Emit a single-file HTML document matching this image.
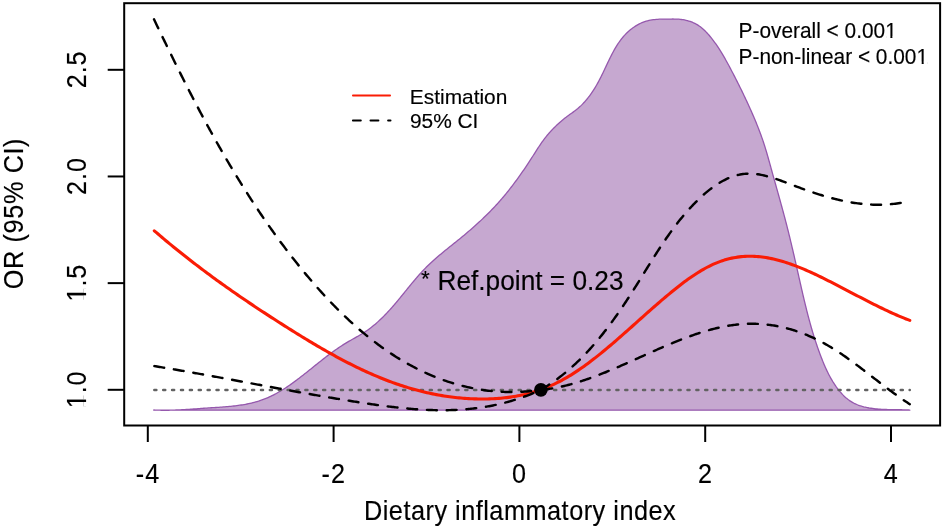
<!DOCTYPE html>
<html><head><meta charset="utf-8"><style>
html,body{margin:0;padding:0;background:#fff;}
body{width:943px;height:528px;overflow:hidden;}
svg{display:block;will-change:transform;}
text{fill:#000;}
</style></head><body>
<svg width="943" height="528" viewBox="0 0 943 528" font-family='"Liberation Sans", sans-serif'><rect x="0" y="0" width="943" height="528" fill="#fff"/><path d="M153.80,410.00 L155.32,410.07 L156.83,410.13 L158.34,410.18 L159.84,410.21 L161.34,410.24 L162.83,410.25 L164.32,410.26 L165.80,410.26 L167.29,410.25 L168.76,410.23 L170.24,410.20 L171.71,410.17 L173.18,410.12 L174.64,410.07 L176.10,410.02 L177.57,409.96 L179.03,409.89 L180.49,409.82 L181.94,409.74 L183.40,409.66 L184.86,409.57 L186.31,409.48 L187.77,409.39 L189.23,409.29 L190.68,409.20 L192.14,409.10 L193.60,408.99 L195.06,408.89 L196.53,408.79 L197.99,408.68 L199.46,408.57 L200.93,408.47 L202.40,408.37 L203.87,408.26 L205.35,408.16 L206.83,408.06 L208.32,407.96 L209.81,407.86 L211.30,407.77 L212.80,407.67 L214.30,407.58 L215.80,407.48 L217.30,407.38 L218.80,407.28 L220.31,407.18 L221.81,407.07 L223.32,406.96 L224.82,406.84 L226.33,406.72 L227.83,406.59 L229.33,406.45 L230.83,406.30 L232.33,406.15 L233.83,405.99 L235.32,405.81 L236.81,405.63 L238.30,405.44 L239.78,405.23 L241.26,405.01 L242.73,404.78 L244.20,404.53 L245.67,404.27 L247.12,403.99 L248.57,403.70 L250.02,403.39 L251.46,403.06 L252.89,402.71 L254.31,402.35 L255.72,401.97 L257.13,401.56 L258.53,401.14 L259.91,400.69 L261.29,400.22 L262.66,399.73 L264.02,399.22 L265.37,398.68 L266.71,398.13 L268.04,397.55 L269.36,396.96 L270.68,396.34 L271.99,395.71 L273.28,395.06 L274.58,394.39 L275.86,393.71 L277.14,393.00 L278.41,392.29 L279.67,391.55 L280.92,390.81 L282.17,390.04 L283.42,389.27 L284.66,388.48 L285.89,387.68 L287.12,386.86 L288.34,386.04 L289.56,385.20 L290.77,384.36 L291.98,383.50 L293.18,382.63 L294.38,381.76 L295.58,380.88 L296.77,379.98 L297.96,379.09 L299.15,378.18 L300.34,377.27 L301.52,376.36 L302.70,375.43 L303.88,374.51 L305.05,373.58 L306.23,372.65 L307.40,371.71 L308.57,370.77 L309.74,369.83 L310.92,368.89 L312.09,367.95 L313.26,367.01 L314.43,366.07 L315.60,365.13 L316.77,364.19 L317.94,363.26 L319.11,362.32 L320.29,361.39 L321.46,360.46 L322.63,359.54 L323.81,358.62 L324.99,357.70 L326.17,356.79 L327.35,355.89 L328.54,354.99 L329.72,354.10 L330.91,353.22 L332.11,352.35 L333.30,351.48 L334.50,350.62 L335.70,349.77 L336.90,348.93 L338.11,348.10 L339.32,347.29 L340.54,346.48 L341.76,345.69 L342.98,344.90 L344.21,344.13 L345.44,343.38 L346.68,342.63 L347.92,341.90 L349.17,341.18 L350.42,340.47 L351.67,339.76 L352.92,339.05 L354.17,338.35 L355.43,337.64 L356.68,336.93 L357.93,336.21 L359.18,335.48 L360.43,334.74 L361.67,333.99 L362.91,333.23 L364.15,332.45 L365.38,331.64 L366.61,330.82 L367.82,329.97 L369.04,329.10 L370.24,328.20 L371.44,327.27 L372.62,326.33 L373.80,325.37 L374.97,324.39 L376.12,323.39 L377.27,322.38 L378.40,321.36 L379.52,320.33 L380.62,319.29 L381.71,318.24 L382.79,317.18 L383.86,316.11 L384.92,315.04 L385.96,313.96 L386.99,312.87 L388.02,311.78 L389.03,310.68 L390.03,309.57 L391.03,308.46 L392.02,307.35 L393.00,306.23 L393.97,305.11 L394.94,303.98 L395.89,302.85 L396.85,301.72 L397.80,300.58 L398.74,299.44 L399.68,298.30 L400.62,297.16 L401.55,296.01 L402.49,294.87 L403.42,293.73 L404.34,292.58 L405.27,291.44 L406.20,290.29 L407.12,289.15 L408.05,288.01 L408.98,286.87 L409.91,285.73 L410.84,284.60 L411.78,283.46 L412.71,282.34 L413.65,281.21 L414.60,280.09 L415.55,278.97 L416.51,277.86 L417.47,276.75 L418.43,275.65 L419.41,274.55 L420.39,273.46 L421.38,272.37 L422.37,271.30 L423.38,270.23 L424.40,269.16 L425.42,268.11 L426.46,267.06 L427.50,266.02 L428.56,264.99 L429.63,263.97 L430.70,262.96 L431.79,261.95 L432.89,260.96 L433.99,259.96 L435.10,258.98 L436.22,258.00 L437.35,257.03 L438.48,256.06 L439.62,255.10 L440.76,254.14 L441.91,253.19 L443.06,252.24 L444.22,251.29 L445.38,250.35 L446.54,249.41 L447.70,248.47 L448.86,247.53 L450.03,246.60 L451.19,245.67 L452.36,244.73 L453.52,243.80 L454.69,242.87 L455.85,241.94 L457.01,241.01 L458.16,240.07 L459.32,239.14 L460.47,238.20 L461.61,237.26 L462.75,236.32 L463.89,235.38 L465.02,234.43 L466.15,233.48 L467.27,232.53 L468.40,231.58 L469.51,230.62 L470.62,229.66 L471.73,228.70 L472.84,227.73 L473.93,226.76 L475.03,225.79 L476.12,224.81 L477.21,223.82 L478.29,222.84 L479.37,221.85 L480.44,220.85 L481.51,219.85 L482.57,218.85 L483.63,217.84 L484.69,216.82 L485.74,215.80 L486.78,214.78 L487.82,213.75 L488.86,212.71 L489.89,211.67 L490.92,210.62 L491.94,209.56 L492.96,208.50 L493.97,207.43 L494.98,206.36 L495.98,205.28 L496.98,204.19 L497.98,203.09 L498.96,201.99 L499.95,200.88 L500.93,199.76 L501.90,198.64 L502.87,197.50 L503.83,196.36 L504.79,195.22 L505.74,194.06 L506.69,192.90 L507.63,191.74 L508.57,190.57 L509.50,189.39 L510.43,188.21 L511.35,187.02 L512.26,185.83 L513.18,184.63 L514.08,183.43 L514.98,182.22 L515.88,181.01 L516.77,179.80 L517.65,178.59 L518.53,177.37 L519.40,176.15 L520.27,174.92 L521.13,173.70 L521.99,172.47 L522.84,171.24 L523.68,170.01 L524.52,168.78 L525.36,167.55 L526.19,166.32 L527.01,165.09 L527.83,163.85 L528.64,162.62 L529.44,161.39 L530.24,160.16 L531.04,158.93 L531.82,157.70 L532.61,156.48 L533.39,155.25 L534.16,154.03 L534.94,152.81 L535.72,151.59 L536.49,150.38 L537.28,149.17 L538.06,147.96 L538.86,146.76 L539.66,145.56 L540.47,144.37 L541.29,143.18 L542.12,141.99 L542.97,140.81 L543.83,139.63 L544.71,138.47 L545.61,137.30 L546.53,136.15 L547.47,135.00 L548.43,133.85 L549.41,132.72 L550.42,131.59 L551.46,130.47 L552.51,129.36 L553.58,128.26 L554.67,127.17 L555.77,126.09 L556.89,125.03 L558.02,123.99 L559.16,122.96 L560.31,121.94 L561.47,120.95 L562.64,119.97 L563.80,119.01 L564.98,118.08 L566.15,117.16 L567.32,116.27 L568.49,115.41 L569.65,114.56 L570.81,113.73 L571.97,112.91 L573.11,112.10 L574.24,111.28 L575.37,110.44 L576.47,109.59 L577.57,108.70 L578.64,107.79 L579.70,106.85 L580.75,105.88 L581.77,104.89 L582.78,103.86 L583.78,102.81 L584.76,101.74 L585.72,100.64 L586.67,99.53 L587.60,98.38 L588.51,97.22 L589.41,96.04 L590.29,94.85 L591.16,93.63 L592.01,92.40 L592.85,91.15 L593.66,89.89 L594.47,88.62 L595.26,87.33 L596.03,86.04 L596.78,84.73 L597.53,83.41 L598.25,82.09 L598.96,80.76 L599.67,79.42 L600.36,78.08 L601.04,76.73 L601.71,75.38 L602.37,74.02 L603.03,72.66 L603.68,71.30 L604.33,69.94 L604.97,68.58 L605.61,67.21 L606.25,65.85 L606.89,64.50 L607.53,63.14 L608.18,61.79 L608.82,60.44 L609.48,59.10 L610.13,57.76 L610.80,56.44 L611.47,55.11 L612.15,53.80 L612.84,52.50 L613.54,51.20 L614.26,49.92 L614.99,48.65 L615.73,47.39 L616.49,46.14 L617.26,44.91 L618.06,43.69 L618.87,42.49 L619.70,41.31 L620.56,40.14 L621.44,38.99 L622.35,37.86 L623.28,36.74 L624.24,35.65 L625.23,34.58 L626.25,33.53 L627.30,32.51 L628.38,31.50 L629.49,30.53 L630.63,29.58 L631.79,28.67 L632.99,27.78 L634.21,26.93 L635.45,26.12 L636.72,25.34 L638.01,24.61 L639.32,23.92 L640.65,23.27 L642.00,22.67 L643.37,22.12 L644.75,21.62 L646.15,21.17 L647.57,20.78 L648.99,20.44 L650.44,20.15 L651.89,19.90 L653.35,19.69 L654.82,19.53 L656.30,19.39 L657.79,19.29 L659.28,19.21 L660.78,19.15 L662.28,19.11 L663.79,19.09 L665.30,19.07 L666.80,19.06 L668.31,19.05 L669.82,19.04 L671.32,19.03 L672.82,19.02 L674.31,19.03 L675.80,19.06 L677.28,19.12 L678.75,19.21 L680.21,19.34 L681.67,19.52 L683.11,19.73 L684.54,19.98 L685.96,20.28 L687.36,20.62 L688.74,21.01 L690.11,21.45 L691.47,21.93 L692.80,22.47 L694.11,23.06 L695.41,23.70 L696.68,24.40 L697.93,25.15 L699.15,25.96 L700.35,26.83 L701.53,27.74 L702.68,28.71 L703.81,29.72 L704.91,30.77 L706.00,31.86 L707.06,32.97 L708.10,34.11 L709.12,35.28 L710.11,36.46 L711.09,37.66 L712.04,38.87 L712.97,40.08 L713.89,41.30 L714.78,42.52 L715.66,43.74 L716.52,44.97 L717.36,46.20 L718.19,47.43 L719.00,48.67 L719.80,49.91 L720.58,51.15 L721.35,52.40 L722.11,53.65 L722.86,54.90 L723.60,56.16 L724.33,57.42 L725.05,58.68 L725.76,59.95 L726.47,61.22 L727.17,62.49 L727.86,63.76 L728.56,65.04 L729.24,66.32 L729.93,67.60 L730.61,68.89 L731.29,70.18 L731.97,71.47 L732.64,72.76 L733.32,74.06 L733.99,75.36 L734.67,76.66 L735.34,77.97 L736.00,79.28 L736.67,80.59 L737.33,81.90 L738.00,83.22 L738.66,84.53 L739.32,85.85 L739.97,87.18 L740.63,88.50 L741.28,89.83 L741.93,91.16 L742.57,92.49 L743.22,93.83 L743.86,95.17 L744.50,96.51 L745.14,97.85 L745.77,99.19 L746.40,100.54 L747.03,101.89 L747.66,103.24 L748.28,104.59 L748.90,105.95 L749.52,107.30 L750.13,108.66 L750.74,110.02 L751.35,111.38 L751.95,112.75 L752.55,114.12 L753.14,115.48 L753.73,116.86 L754.32,118.23 L754.89,119.60 L755.47,120.98 L756.04,122.36 L756.60,123.73 L757.15,125.12 L757.70,126.50 L758.25,127.88 L758.79,129.27 L759.32,130.66 L759.84,132.05 L760.36,133.44 L760.87,134.83 L761.38,136.22 L761.87,137.62 L762.36,139.01 L762.84,140.41 L763.31,141.81 L763.78,143.21 L764.23,144.61 L764.68,146.02 L765.12,147.42 L765.55,148.83 L765.98,150.23 L766.40,151.64 L766.81,153.05 L767.22,154.46 L767.63,155.87 L768.03,157.28 L768.43,158.70 L768.83,160.11 L769.22,161.53 L769.62,162.94 L770.01,164.36 L770.40,165.78 L770.79,167.20 L771.18,168.62 L771.58,170.04 L771.97,171.46 L772.37,172.88 L772.76,174.31 L773.16,175.73 L773.56,177.15 L773.96,178.58 L774.36,180.01 L774.76,181.43 L775.16,182.86 L775.56,184.29 L775.96,185.72 L776.36,187.15 L776.76,188.58 L777.16,190.01 L777.56,191.44 L777.96,192.87 L778.36,194.30 L778.76,195.73 L779.16,197.17 L779.56,198.60 L779.96,200.04 L780.35,201.47 L780.75,202.91 L781.14,204.34 L781.54,205.78 L781.93,207.21 L782.32,208.65 L782.71,210.09 L783.10,211.53 L783.49,212.96 L783.87,214.40 L784.26,215.84 L784.64,217.28 L785.02,218.72 L785.40,220.16 L785.77,221.60 L786.15,223.04 L786.52,224.48 L786.89,225.92 L787.25,227.36 L787.62,228.80 L787.98,230.24 L788.34,231.69 L788.70,233.13 L789.05,234.57 L789.41,236.01 L789.76,237.45 L790.11,238.89 L790.46,240.34 L790.80,241.78 L791.15,243.22 L791.49,244.66 L791.83,246.11 L792.17,247.55 L792.51,248.99 L792.85,250.43 L793.18,251.88 L793.52,253.32 L793.85,254.76 L794.18,256.20 L794.51,257.64 L794.85,259.09 L795.17,260.53 L795.50,261.97 L795.83,263.41 L796.16,264.85 L796.49,266.29 L796.81,267.73 L797.14,269.17 L797.46,270.61 L797.79,272.05 L798.11,273.49 L798.44,274.93 L798.76,276.37 L799.08,277.81 L799.41,279.25 L799.73,280.69 L800.06,282.13 L800.38,283.56 L800.71,285.00 L801.04,286.44 L801.36,287.88 L801.69,289.31 L802.02,290.75 L802.35,292.18 L802.68,293.62 L803.02,295.05 L803.35,296.48 L803.69,297.92 L804.03,299.35 L804.37,300.78 L804.71,302.21 L805.06,303.64 L805.41,305.07 L805.76,306.50 L806.11,307.93 L806.47,309.36 L806.82,310.79 L807.19,312.22 L807.55,313.64 L807.92,315.07 L808.29,316.49 L808.67,317.92 L809.05,319.34 L809.44,320.76 L809.82,322.19 L810.22,323.61 L810.61,325.03 L811.02,326.45 L811.42,327.87 L811.83,329.28 L812.25,330.70 L812.67,332.12 L813.10,333.53 L813.53,334.95 L813.97,336.36 L814.41,337.77 L814.86,339.19 L815.31,340.60 L815.77,342.01 L816.24,343.41 L816.71,344.82 L817.19,346.23 L817.68,347.63 L818.17,349.04 L818.67,350.44 L819.18,351.84 L819.70,353.25 L820.22,354.65 L820.75,356.05 L821.28,357.44 L821.83,358.84 L822.38,360.23 L822.94,361.63 L823.51,363.02 L824.09,364.40 L824.69,365.78 L825.29,367.15 L825.91,368.52 L826.53,369.88 L827.18,371.24 L827.83,372.58 L828.50,373.92 L829.18,375.25 L829.88,376.57 L830.60,377.87 L831.33,379.17 L832.08,380.45 L832.85,381.72 L833.64,382.97 L834.44,384.21 L835.27,385.44 L836.11,386.65 L836.98,387.84 L837.87,389.02 L838.78,390.18 L839.71,391.32 L840.67,392.44 L841.65,393.54 L842.65,394.61 L843.68,395.66 L844.74,396.67 L845.82,397.65 L846.93,398.60 L848.06,399.49 L849.23,400.35 L850.42,401.15 L851.64,401.91 L852.89,402.62 L854.16,403.29 L855.46,403.91 L856.78,404.48 L858.12,405.02 L859.49,405.52 L860.87,405.98 L862.27,406.40 L863.69,406.79 L865.13,407.14 L866.58,407.47 L868.04,407.76 L869.52,408.03 L871.01,408.26 L872.51,408.48 L874.02,408.67 L875.53,408.83 L877.05,408.98 L878.58,409.11 L880.11,409.21 L881.65,409.31 L883.18,409.39 L884.72,409.45 L886.26,409.51 L887.79,409.55 L889.32,409.59 L890.85,409.62 L892.38,409.64 L893.89,409.66 L895.40,409.68 L896.90,409.70 L898.39,409.72 L899.87,409.74 L901.33,409.77 L902.79,409.80 L904.22,409.84 L905.64,409.89 L907.05,409.95 L908.43,410.02 L909.80,410.10 L909.80,410.2 L153.80,410.2 Z" fill="#c6a8d0" stroke="none"/><path d="M153.80,410.00 L155.32,410.07 L156.83,410.13 L158.34,410.18 L159.84,410.21 L161.34,410.24 L162.83,410.25 L164.32,410.26 L165.80,410.26 L167.29,410.25 L168.76,410.23 L170.24,410.20 L171.71,410.17 L173.18,410.12 L174.64,410.07 L176.10,410.02 L177.57,409.96 L179.03,409.89 L180.49,409.82 L181.94,409.74 L183.40,409.66 L184.86,409.57 L186.31,409.48 L187.77,409.39 L189.23,409.29 L190.68,409.20 L192.14,409.10 L193.60,408.99 L195.06,408.89 L196.53,408.79 L197.99,408.68 L199.46,408.57 L200.93,408.47 L202.40,408.37 L203.87,408.26 L205.35,408.16 L206.83,408.06 L208.32,407.96 L209.81,407.86 L211.30,407.77 L212.80,407.67 L214.30,407.58 L215.80,407.48 L217.30,407.38 L218.80,407.28 L220.31,407.18 L221.81,407.07 L223.32,406.96 L224.82,406.84 L226.33,406.72 L227.83,406.59 L229.33,406.45 L230.83,406.30 L232.33,406.15 L233.83,405.99 L235.32,405.81 L236.81,405.63 L238.30,405.44 L239.78,405.23 L241.26,405.01 L242.73,404.78 L244.20,404.53 L245.67,404.27 L247.12,403.99 L248.57,403.70 L250.02,403.39 L251.46,403.06 L252.89,402.71 L254.31,402.35 L255.72,401.97 L257.13,401.56 L258.53,401.14 L259.91,400.69 L261.29,400.22 L262.66,399.73 L264.02,399.22 L265.37,398.68 L266.71,398.13 L268.04,397.55 L269.36,396.96 L270.68,396.34 L271.99,395.71 L273.28,395.06 L274.58,394.39 L275.86,393.71 L277.14,393.00 L278.41,392.29 L279.67,391.55 L280.92,390.81 L282.17,390.04 L283.42,389.27 L284.66,388.48 L285.89,387.68 L287.12,386.86 L288.34,386.04 L289.56,385.20 L290.77,384.36 L291.98,383.50 L293.18,382.63 L294.38,381.76 L295.58,380.88 L296.77,379.98 L297.96,379.09 L299.15,378.18 L300.34,377.27 L301.52,376.36 L302.70,375.43 L303.88,374.51 L305.05,373.58 L306.23,372.65 L307.40,371.71 L308.57,370.77 L309.74,369.83 L310.92,368.89 L312.09,367.95 L313.26,367.01 L314.43,366.07 L315.60,365.13 L316.77,364.19 L317.94,363.26 L319.11,362.32 L320.29,361.39 L321.46,360.46 L322.63,359.54 L323.81,358.62 L324.99,357.70 L326.17,356.79 L327.35,355.89 L328.54,354.99 L329.72,354.10 L330.91,353.22 L332.11,352.35 L333.30,351.48 L334.50,350.62 L335.70,349.77 L336.90,348.93 L338.11,348.10 L339.32,347.29 L340.54,346.48 L341.76,345.69 L342.98,344.90 L344.21,344.13 L345.44,343.38 L346.68,342.63 L347.92,341.90 L349.17,341.18 L350.42,340.47 L351.67,339.76 L352.92,339.05 L354.17,338.35 L355.43,337.64 L356.68,336.93 L357.93,336.21 L359.18,335.48 L360.43,334.74 L361.67,333.99 L362.91,333.23 L364.15,332.45 L365.38,331.64 L366.61,330.82 L367.82,329.97 L369.04,329.10 L370.24,328.20 L371.44,327.27 L372.62,326.33 L373.80,325.37 L374.97,324.39 L376.12,323.39 L377.27,322.38 L378.40,321.36 L379.52,320.33 L380.62,319.29 L381.71,318.24 L382.79,317.18 L383.86,316.11 L384.92,315.04 L385.96,313.96 L386.99,312.87 L388.02,311.78 L389.03,310.68 L390.03,309.57 L391.03,308.46 L392.02,307.35 L393.00,306.23 L393.97,305.11 L394.94,303.98 L395.89,302.85 L396.85,301.72 L397.80,300.58 L398.74,299.44 L399.68,298.30 L400.62,297.16 L401.55,296.01 L402.49,294.87 L403.42,293.73 L404.34,292.58 L405.27,291.44 L406.20,290.29 L407.12,289.15 L408.05,288.01 L408.98,286.87 L409.91,285.73 L410.84,284.60 L411.78,283.46 L412.71,282.34 L413.65,281.21 L414.60,280.09 L415.55,278.97 L416.51,277.86 L417.47,276.75 L418.43,275.65 L419.41,274.55 L420.39,273.46 L421.38,272.37 L422.37,271.30 L423.38,270.23 L424.40,269.16 L425.42,268.11 L426.46,267.06 L427.50,266.02 L428.56,264.99 L429.63,263.97 L430.70,262.96 L431.79,261.95 L432.89,260.96 L433.99,259.96 L435.10,258.98 L436.22,258.00 L437.35,257.03 L438.48,256.06 L439.62,255.10 L440.76,254.14 L441.91,253.19 L443.06,252.24 L444.22,251.29 L445.38,250.35 L446.54,249.41 L447.70,248.47 L448.86,247.53 L450.03,246.60 L451.19,245.67 L452.36,244.73 L453.52,243.80 L454.69,242.87 L455.85,241.94 L457.01,241.01 L458.16,240.07 L459.32,239.14 L460.47,238.20 L461.61,237.26 L462.75,236.32 L463.89,235.38 L465.02,234.43 L466.15,233.48 L467.27,232.53 L468.40,231.58 L469.51,230.62 L470.62,229.66 L471.73,228.70 L472.84,227.73 L473.93,226.76 L475.03,225.79 L476.12,224.81 L477.21,223.82 L478.29,222.84 L479.37,221.85 L480.44,220.85 L481.51,219.85 L482.57,218.85 L483.63,217.84 L484.69,216.82 L485.74,215.80 L486.78,214.78 L487.82,213.75 L488.86,212.71 L489.89,211.67 L490.92,210.62 L491.94,209.56 L492.96,208.50 L493.97,207.43 L494.98,206.36 L495.98,205.28 L496.98,204.19 L497.98,203.09 L498.96,201.99 L499.95,200.88 L500.93,199.76 L501.90,198.64 L502.87,197.50 L503.83,196.36 L504.79,195.22 L505.74,194.06 L506.69,192.90 L507.63,191.74 L508.57,190.57 L509.50,189.39 L510.43,188.21 L511.35,187.02 L512.26,185.83 L513.18,184.63 L514.08,183.43 L514.98,182.22 L515.88,181.01 L516.77,179.80 L517.65,178.59 L518.53,177.37 L519.40,176.15 L520.27,174.92 L521.13,173.70 L521.99,172.47 L522.84,171.24 L523.68,170.01 L524.52,168.78 L525.36,167.55 L526.19,166.32 L527.01,165.09 L527.83,163.85 L528.64,162.62 L529.44,161.39 L530.24,160.16 L531.04,158.93 L531.82,157.70 L532.61,156.48 L533.39,155.25 L534.16,154.03 L534.94,152.81 L535.72,151.59 L536.49,150.38 L537.28,149.17 L538.06,147.96 L538.86,146.76 L539.66,145.56 L540.47,144.37 L541.29,143.18 L542.12,141.99 L542.97,140.81 L543.83,139.63 L544.71,138.47 L545.61,137.30 L546.53,136.15 L547.47,135.00 L548.43,133.85 L549.41,132.72 L550.42,131.59 L551.46,130.47 L552.51,129.36 L553.58,128.26 L554.67,127.17 L555.77,126.09 L556.89,125.03 L558.02,123.99 L559.16,122.96 L560.31,121.94 L561.47,120.95 L562.64,119.97 L563.80,119.01 L564.98,118.08 L566.15,117.16 L567.32,116.27 L568.49,115.41 L569.65,114.56 L570.81,113.73 L571.97,112.91 L573.11,112.10 L574.24,111.28 L575.37,110.44 L576.47,109.59 L577.57,108.70 L578.64,107.79 L579.70,106.85 L580.75,105.88 L581.77,104.89 L582.78,103.86 L583.78,102.81 L584.76,101.74 L585.72,100.64 L586.67,99.53 L587.60,98.38 L588.51,97.22 L589.41,96.04 L590.29,94.85 L591.16,93.63 L592.01,92.40 L592.85,91.15 L593.66,89.89 L594.47,88.62 L595.26,87.33 L596.03,86.04 L596.78,84.73 L597.53,83.41 L598.25,82.09 L598.96,80.76 L599.67,79.42 L600.36,78.08 L601.04,76.73 L601.71,75.38 L602.37,74.02 L603.03,72.66 L603.68,71.30 L604.33,69.94 L604.97,68.58 L605.61,67.21 L606.25,65.85 L606.89,64.50 L607.53,63.14 L608.18,61.79 L608.82,60.44 L609.48,59.10 L610.13,57.76 L610.80,56.44 L611.47,55.11 L612.15,53.80 L612.84,52.50 L613.54,51.20 L614.26,49.92 L614.99,48.65 L615.73,47.39 L616.49,46.14 L617.26,44.91 L618.06,43.69 L618.87,42.49 L619.70,41.31 L620.56,40.14 L621.44,38.99 L622.35,37.86 L623.28,36.74 L624.24,35.65 L625.23,34.58 L626.25,33.53 L627.30,32.51 L628.38,31.50 L629.49,30.53 L630.63,29.58 L631.79,28.67 L632.99,27.78 L634.21,26.93 L635.45,26.12 L636.72,25.34 L638.01,24.61 L639.32,23.92 L640.65,23.27 L642.00,22.67 L643.37,22.12 L644.75,21.62 L646.15,21.17 L647.57,20.78 L648.99,20.44 L650.44,20.15 L651.89,19.90 L653.35,19.69 L654.82,19.53 L656.30,19.39 L657.79,19.29 L659.28,19.21 L660.78,19.15 L662.28,19.11 L663.79,19.09 L665.30,19.07 L666.80,19.06 L668.31,19.05 L669.82,19.04 L671.32,19.03 L672.82,19.02 L674.31,19.03 L675.80,19.06 L677.28,19.12 L678.75,19.21 L680.21,19.34 L681.67,19.52 L683.11,19.73 L684.54,19.98 L685.96,20.28 L687.36,20.62 L688.74,21.01 L690.11,21.45 L691.47,21.93 L692.80,22.47 L694.11,23.06 L695.41,23.70 L696.68,24.40 L697.93,25.15 L699.15,25.96 L700.35,26.83 L701.53,27.74 L702.68,28.71 L703.81,29.72 L704.91,30.77 L706.00,31.86 L707.06,32.97 L708.10,34.11 L709.12,35.28 L710.11,36.46 L711.09,37.66 L712.04,38.87 L712.97,40.08 L713.89,41.30 L714.78,42.52 L715.66,43.74 L716.52,44.97 L717.36,46.20 L718.19,47.43 L719.00,48.67 L719.80,49.91 L720.58,51.15 L721.35,52.40 L722.11,53.65 L722.86,54.90 L723.60,56.16 L724.33,57.42 L725.05,58.68 L725.76,59.95 L726.47,61.22 L727.17,62.49 L727.86,63.76 L728.56,65.04 L729.24,66.32 L729.93,67.60 L730.61,68.89 L731.29,70.18 L731.97,71.47 L732.64,72.76 L733.32,74.06 L733.99,75.36 L734.67,76.66 L735.34,77.97 L736.00,79.28 L736.67,80.59 L737.33,81.90 L738.00,83.22 L738.66,84.53 L739.32,85.85 L739.97,87.18 L740.63,88.50 L741.28,89.83 L741.93,91.16 L742.57,92.49 L743.22,93.83 L743.86,95.17 L744.50,96.51 L745.14,97.85 L745.77,99.19 L746.40,100.54 L747.03,101.89 L747.66,103.24 L748.28,104.59 L748.90,105.95 L749.52,107.30 L750.13,108.66 L750.74,110.02 L751.35,111.38 L751.95,112.75 L752.55,114.12 L753.14,115.48 L753.73,116.86 L754.32,118.23 L754.89,119.60 L755.47,120.98 L756.04,122.36 L756.60,123.73 L757.15,125.12 L757.70,126.50 L758.25,127.88 L758.79,129.27 L759.32,130.66 L759.84,132.05 L760.36,133.44 L760.87,134.83 L761.38,136.22 L761.87,137.62 L762.36,139.01 L762.84,140.41 L763.31,141.81 L763.78,143.21 L764.23,144.61 L764.68,146.02 L765.12,147.42 L765.55,148.83 L765.98,150.23 L766.40,151.64 L766.81,153.05 L767.22,154.46 L767.63,155.87 L768.03,157.28 L768.43,158.70 L768.83,160.11 L769.22,161.53 L769.62,162.94 L770.01,164.36 L770.40,165.78 L770.79,167.20 L771.18,168.62 L771.58,170.04 L771.97,171.46 L772.37,172.88 L772.76,174.31 L773.16,175.73 L773.56,177.15 L773.96,178.58 L774.36,180.01 L774.76,181.43 L775.16,182.86 L775.56,184.29 L775.96,185.72 L776.36,187.15 L776.76,188.58 L777.16,190.01 L777.56,191.44 L777.96,192.87 L778.36,194.30 L778.76,195.73 L779.16,197.17 L779.56,198.60 L779.96,200.04 L780.35,201.47 L780.75,202.91 L781.14,204.34 L781.54,205.78 L781.93,207.21 L782.32,208.65 L782.71,210.09 L783.10,211.53 L783.49,212.96 L783.87,214.40 L784.26,215.84 L784.64,217.28 L785.02,218.72 L785.40,220.16 L785.77,221.60 L786.15,223.04 L786.52,224.48 L786.89,225.92 L787.25,227.36 L787.62,228.80 L787.98,230.24 L788.34,231.69 L788.70,233.13 L789.05,234.57 L789.41,236.01 L789.76,237.45 L790.11,238.89 L790.46,240.34 L790.80,241.78 L791.15,243.22 L791.49,244.66 L791.83,246.11 L792.17,247.55 L792.51,248.99 L792.85,250.43 L793.18,251.88 L793.52,253.32 L793.85,254.76 L794.18,256.20 L794.51,257.64 L794.85,259.09 L795.17,260.53 L795.50,261.97 L795.83,263.41 L796.16,264.85 L796.49,266.29 L796.81,267.73 L797.14,269.17 L797.46,270.61 L797.79,272.05 L798.11,273.49 L798.44,274.93 L798.76,276.37 L799.08,277.81 L799.41,279.25 L799.73,280.69 L800.06,282.13 L800.38,283.56 L800.71,285.00 L801.04,286.44 L801.36,287.88 L801.69,289.31 L802.02,290.75 L802.35,292.18 L802.68,293.62 L803.02,295.05 L803.35,296.48 L803.69,297.92 L804.03,299.35 L804.37,300.78 L804.71,302.21 L805.06,303.64 L805.41,305.07 L805.76,306.50 L806.11,307.93 L806.47,309.36 L806.82,310.79 L807.19,312.22 L807.55,313.64 L807.92,315.07 L808.29,316.49 L808.67,317.92 L809.05,319.34 L809.44,320.76 L809.82,322.19 L810.22,323.61 L810.61,325.03 L811.02,326.45 L811.42,327.87 L811.83,329.28 L812.25,330.70 L812.67,332.12 L813.10,333.53 L813.53,334.95 L813.97,336.36 L814.41,337.77 L814.86,339.19 L815.31,340.60 L815.77,342.01 L816.24,343.41 L816.71,344.82 L817.19,346.23 L817.68,347.63 L818.17,349.04 L818.67,350.44 L819.18,351.84 L819.70,353.25 L820.22,354.65 L820.75,356.05 L821.28,357.44 L821.83,358.84 L822.38,360.23 L822.94,361.63 L823.51,363.02 L824.09,364.40 L824.69,365.78 L825.29,367.15 L825.91,368.52 L826.53,369.88 L827.18,371.24 L827.83,372.58 L828.50,373.92 L829.18,375.25 L829.88,376.57 L830.60,377.87 L831.33,379.17 L832.08,380.45 L832.85,381.72 L833.64,382.97 L834.44,384.21 L835.27,385.44 L836.11,386.65 L836.98,387.84 L837.87,389.02 L838.78,390.18 L839.71,391.32 L840.67,392.44 L841.65,393.54 L842.65,394.61 L843.68,395.66 L844.74,396.67 L845.82,397.65 L846.93,398.60 L848.06,399.49 L849.23,400.35 L850.42,401.15 L851.64,401.91 L852.89,402.62 L854.16,403.29 L855.46,403.91 L856.78,404.48 L858.12,405.02 L859.49,405.52 L860.87,405.98 L862.27,406.40 L863.69,406.79 L865.13,407.14 L866.58,407.47 L868.04,407.76 L869.52,408.03 L871.01,408.26 L872.51,408.48 L874.02,408.67 L875.53,408.83 L877.05,408.98 L878.58,409.11 L880.11,409.21 L881.65,409.31 L883.18,409.39 L884.72,409.45 L886.26,409.51 L887.79,409.55 L889.32,409.59 L890.85,409.62 L892.38,409.64 L893.89,409.66 L895.40,409.68 L896.90,409.70 L898.39,409.72 L899.87,409.74 L901.33,409.77 L902.79,409.80 L904.22,409.84 L905.64,409.89 L907.05,409.95 L908.43,410.02 L909.80,410.10 L909.80,410.2 L153.80,410.2 Z" fill="none" stroke="#9558ad" stroke-width="1.3" stroke-linejoin="round"/><line x1="154.3" y1="390.0" x2="909.8" y2="390.0" stroke="#626262" stroke-width="2.45" stroke-dasharray="2.1 6.786" stroke-linecap="round"/><path d="M154.30,230.80 L156.19,232.43 L158.09,234.05 L159.98,235.66 L161.87,237.26 L163.77,238.86 L165.66,240.44 L167.55,242.01 L169.45,243.58 L171.34,245.14 L173.23,246.69 L175.13,248.23 L177.02,249.76 L178.92,251.28 L180.81,252.80 L182.70,254.31 L184.60,255.81 L186.49,257.30 L188.38,258.78 L190.28,260.26 L192.17,261.72 L194.06,263.18 L195.96,264.64 L197.85,266.08 L199.74,267.52 L201.64,268.95 L203.53,270.37 L205.42,271.79 L207.32,273.20 L209.21,274.60 L211.10,276.00 L213.00,277.38 L214.89,278.77 L216.78,280.14 L218.68,281.51 L220.57,282.87 L222.47,284.23 L224.36,285.58 L226.25,286.92 L228.15,288.26 L230.04,289.60 L231.93,290.92 L233.83,292.24 L235.72,293.56 L237.61,294.87 L239.51,296.17 L241.40,297.47 L243.29,298.77 L245.19,300.05 L247.08,301.34 L248.97,302.62 L250.87,303.89 L252.76,305.16 L254.65,306.42 L256.55,307.68 L258.44,308.94 L260.34,310.19 L262.23,311.43 L264.12,312.67 L266.02,313.91 L267.91,315.15 L269.80,316.38 L271.70,317.60 L273.59,318.82 L275.48,320.04 L277.38,321.26 L279.27,322.47 L281.16,323.67 L283.06,324.88 L284.95,326.08 L286.84,327.28 L288.74,328.47 L290.63,329.66 L292.52,330.85 L294.42,332.03 L296.31,333.20 L298.20,334.38 L300.10,335.54 L301.99,336.71 L303.89,337.86 L305.78,339.01 L307.67,340.16 L309.57,341.30 L311.46,342.43 L313.35,343.56 L315.25,344.68 L317.14,345.80 L319.03,346.90 L320.93,348.00 L322.82,349.10 L324.71,350.18 L326.61,351.26 L328.50,352.33 L330.39,353.39 L332.29,354.44 L334.18,355.48 L336.07,356.52 L337.97,357.55 L339.86,358.56 L341.75,359.57 L343.65,360.57 L345.54,361.56 L347.44,362.53 L349.33,363.50 L351.22,364.46 L353.12,365.41 L355.01,366.34 L356.90,367.27 L358.80,368.18 L360.69,369.09 L362.58,369.98 L364.48,370.86 L366.37,371.73 L368.26,372.58 L370.16,373.43 L372.05,374.26 L373.94,375.08 L375.84,375.89 L377.73,376.69 L379.62,377.47 L381.52,378.24 L383.41,379.00 L385.31,379.75 L387.20,380.48 L389.09,381.20 L390.99,381.90 L392.88,382.59 L394.77,383.27 L396.67,383.93 L398.56,384.58 L400.45,385.22 L402.35,385.84 L404.24,386.45 L406.13,387.04 L408.03,387.62 L409.92,388.19 L411.81,388.74 L413.71,389.28 L415.60,389.80 L417.49,390.31 L419.39,390.80 L421.28,391.29 L423.17,391.75 L425.07,392.21 L426.96,392.64 L428.86,393.07 L430.75,393.48 L432.64,393.87 L434.54,394.26 L436.43,394.62 L438.32,394.97 L440.22,395.31 L442.11,395.63 L444.00,395.94 L445.90,396.24 L447.79,396.52 L449.68,396.78 L451.58,397.03 L453.47,397.26 L455.36,397.48 L457.26,397.69 L459.15,397.88 L461.04,398.06 L462.94,398.22 L464.83,398.36 L466.72,398.49 L468.62,398.61 L470.51,398.71 L472.41,398.79 L474.30,398.86 L476.19,398.92 L478.09,398.96 L479.98,398.98 L481.87,398.99 L483.77,398.99 L485.66,398.97 L487.55,398.93 L489.45,398.87 L491.34,398.80 L493.23,398.72 L495.13,398.61 L497.02,398.49 L498.91,398.35 L500.81,398.19 L502.70,398.01 L504.59,397.81 L506.49,397.59 L508.38,397.35 L510.27,397.09 L512.17,396.81 L514.06,396.51 L515.96,396.18 L517.85,395.83 L519.74,395.46 L521.64,395.07 L523.53,394.65 L525.42,394.20 L527.32,393.73 L529.21,393.24 L531.10,392.72 L533.00,392.17 L534.89,391.59 L536.78,390.99 L538.68,390.37 L540.57,389.71 L542.46,389.02 L544.36,388.31 L546.25,387.57 L548.14,386.79 L550.04,385.99 L551.93,385.16 L553.83,384.29 L555.72,383.39 L557.61,382.46 L559.51,381.50 L561.40,380.51 L563.29,379.48 L565.19,378.42 L567.08,377.33 L568.97,376.20 L570.87,375.05 L572.76,373.86 L574.65,372.65 L576.55,371.41 L578.44,370.14 L580.33,368.84 L582.23,367.52 L584.12,366.17 L586.01,364.80 L587.91,363.41 L589.80,361.99 L591.69,360.56 L593.59,359.10 L595.48,357.62 L597.38,356.13 L599.27,354.61 L601.16,353.08 L603.06,351.54 L604.95,349.98 L606.84,348.40 L608.74,346.81 L610.63,345.21 L612.52,343.59 L614.42,341.97 L616.31,340.33 L618.20,338.68 L620.10,337.03 L621.99,335.37 L623.88,333.70 L625.78,332.03 L627.67,330.35 L629.56,328.66 L631.46,326.97 L633.35,325.28 L635.24,323.59 L637.14,321.90 L639.03,320.21 L640.93,318.52 L642.82,316.82 L644.71,315.14 L646.61,313.45 L648.50,311.77 L650.39,310.10 L652.29,308.43 L654.18,306.77 L656.07,305.11 L657.97,303.47 L659.86,301.83 L661.75,300.20 L663.65,298.59 L665.54,296.98 L667.43,295.39 L669.33,293.82 L671.22,292.25 L673.11,290.71 L675.01,289.18 L676.90,287.67 L678.79,286.19 L680.69,284.72 L682.58,283.28 L684.48,281.86 L686.37,280.47 L688.26,279.10 L690.16,277.77 L692.05,276.46 L693.94,275.19 L695.84,273.95 L697.73,272.74 L699.62,271.57 L701.52,270.43 L703.41,269.33 L705.30,268.27 L707.20,267.25 L709.09,266.28 L710.98,265.35 L712.88,264.46 L714.77,263.62 L716.66,262.82 L718.56,262.07 L720.45,261.37 L722.35,260.72 L724.24,260.11 L726.13,259.55 L728.03,259.03 L729.92,258.56 L731.81,258.13 L733.71,257.75 L735.60,257.41 L737.49,257.12 L739.39,256.87 L741.28,256.66 L743.17,256.49 L745.07,256.37 L746.96,256.28 L748.85,256.24 L750.75,256.24 L752.64,256.28 L754.53,256.35 L756.43,256.47 L758.32,256.62 L760.21,256.80 L762.11,257.02 L764.00,257.28 L765.90,257.57 L767.79,257.89 L769.68,258.24 L771.58,258.63 L773.47,259.04 L775.36,259.49 L777.26,259.96 L779.15,260.46 L781.04,260.99 L782.94,261.55 L784.83,262.13 L786.72,262.73 L788.62,263.36 L790.51,264.02 L792.40,264.69 L794.30,265.39 L796.19,266.11 L798.08,266.85 L799.98,267.60 L801.87,268.38 L803.76,269.18 L805.66,269.99 L807.55,270.81 L809.45,271.66 L811.34,272.51 L813.23,273.39 L815.13,274.27 L817.02,275.17 L818.91,276.07 L820.81,276.99 L822.70,277.92 L824.59,278.86 L826.49,279.80 L828.38,280.76 L830.27,281.72 L832.17,282.68 L834.06,283.65 L835.95,284.63 L837.85,285.61 L839.74,286.59 L841.63,287.58 L843.53,288.57 L845.42,289.56 L847.32,290.55 L849.21,291.54 L851.10,292.54 L853.00,293.53 L854.89,294.52 L856.78,295.51 L858.68,296.50 L860.57,297.49 L862.46,298.47 L864.36,299.45 L866.25,300.43 L868.14,301.40 L870.04,302.36 L871.93,303.32 L873.82,304.28 L875.72,305.22 L877.61,306.16 L879.50,307.09 L881.40,308.01 L883.29,308.92 L885.18,309.82 L887.08,310.72 L888.97,311.60 L890.87,312.47 L892.76,313.32 L894.65,314.17 L896.55,315.00 L898.44,315.82 L900.33,316.62 L902.23,317.41 L904.12,318.18 L906.01,318.94 L907.91,319.68 L909.80,320.40" fill="none" stroke="#fa1c05" stroke-width="3.1" stroke-linecap="round" stroke-linejoin="round"/><path d="M154.00,19.31 L154.82,21.02 L155.64,22.74 L156.46,24.46 L157.28,26.17 L158.11,27.89 L158.93,29.60 L159.76,31.32 L160.58,33.04 L161.41,34.75 L162.24,36.47 L163.07,38.18 L163.90,39.90 L164.73,41.61 L165.56,43.33 L166.39,45.04 L167.23,46.76 L168.06,48.47 L168.90,50.19 L169.74,51.90 L170.58,53.62 L171.42,55.33 L172.26,57.04 L173.10,58.75 L173.95,60.47 L174.79,62.18 L175.64,63.89 L176.49,65.60 L177.33,67.31 L178.19,69.02 L179.04,70.73 L179.89,72.44 L180.75,74.15 L181.60,75.86 L182.46,77.56 L183.32,79.27 L184.18,80.98 L185.05,82.68 L185.91,84.39 L186.78,86.09 L187.65,87.79 L188.52,89.50 L189.39,91.20 L190.26,92.90 L191.14,94.60 L192.01,96.30 L192.89,98.00 L193.77,99.70 L194.66,101.39 L195.54,103.09 L196.43,104.79 L197.32,106.48 L198.21,108.17 L199.10,109.87 L199.99,111.56 L200.89,113.25 L201.79,114.94 L202.69,116.63 L203.59,118.31 L204.50,120.00 L205.41,121.69 L206.32,123.37 L207.23,125.05 L208.14,126.73 L209.06,128.41 L209.98,130.09 L210.90,131.77 L211.82,133.45 L212.75,135.13 L213.68,136.80 L214.61,138.47 L215.54,140.14 L216.48,141.82 L217.42,143.48 L218.36,145.15 L219.30,146.82 L220.25,148.48 L221.20,150.15 L222.15,151.81 L223.11,153.47 L224.06,155.13 L225.03,156.79 L225.99,158.44 L226.95,160.10 L227.92,161.75 L228.89,163.40 L229.87,165.05 L230.85,166.70 L231.83,168.35 L232.81,169.99 L233.80,171.63 L234.78,173.28 L235.78,174.91 L236.77,176.55 L237.77,178.19 L238.77,179.82 L239.78,181.46 L240.78,183.09 L241.80,184.72 L242.81,186.34 L243.83,187.97 L244.85,189.59 L245.87,191.21 L246.90,192.83 L247.93,194.45 L248.96,196.06 L250.00,197.68 L251.04,199.29 L252.09,200.90 L253.13,202.51 L254.19,204.11 L255.24,205.71 L256.30,207.31 L257.36,208.91 L258.43,210.51 L259.50,212.10 L260.57,213.70 L261.64,215.29 L262.72,216.87 L263.81,218.46 L264.90,220.04 L265.99,221.62 L267.08,223.20 L268.18,224.78 L269.29,226.35 L270.39,227.92 L271.50,229.49 L272.62,231.06 L273.74,232.62 L274.86,234.19 L275.99,235.74 L277.12,237.30 L278.25,238.86 L279.39,240.41 L280.53,241.96 L281.68,243.50 L282.83,245.05 L283.99,246.59 L285.15,248.13 L286.31,249.66 L287.48,251.20 L288.65,252.73 L289.83,254.25 L291.01,255.78 L292.20,257.30 L293.39,258.82 L294.58,260.34 L295.78,261.85 L296.98,263.36 L298.19,264.87 L299.40,266.38 L300.62,267.88 L301.84,269.38 L303.07,270.88 L304.30,272.37 L305.53,273.86 L306.77,275.34 L308.02,276.83 L309.27,278.30 L310.52,279.78 L311.78,281.25 L313.05,282.72 L314.31,284.18 L315.59,285.64 L316.87,287.09 L318.15,288.54 L319.44,289.98 L320.73,291.42 L322.03,292.85 L323.33,294.28 L324.64,295.71 L325.95,297.12 L327.27,298.54 L328.60,299.94 L329.92,301.34 L331.26,302.74 L332.60,304.13 L333.94,305.51 L335.29,306.89 L336.64,308.26 L338.00,309.62 L339.37,310.98 L340.74,312.33 L342.12,313.67 L343.50,315.01 L344.88,316.34 L346.28,317.66 L347.67,318.98 L349.08,320.29 L350.49,321.59 L351.90,322.88 L353.32,324.16 L354.75,325.44 L356.18,326.71 L357.61,327.96 L359.05,329.22 L360.50,330.46 L361.96,331.69 L363.42,332.92 L364.88,334.14 L366.35,335.34 L367.83,336.54 L369.31,337.73 L370.80,338.91 L372.29,340.08 L373.79,341.24 L375.30,342.39 L376.81,343.54 L378.33,344.67 L379.85,345.79 L381.38,346.90 L382.92,348.00 L384.46,349.09 L386.01,350.17 L387.56,351.24 L389.13,352.30 L390.69,353.34 L392.27,354.38 L393.84,355.40 L395.43,356.42 L397.02,357.42 L398.62,358.41 L400.22,359.39 L401.84,360.36 L403.45,361.31 L405.08,362.25 L406.71,363.18 L408.34,364.10 L409.99,365.01 L411.64,365.90 L413.29,366.78 L414.95,367.65 L416.62,368.50 L418.30,369.35 L419.98,370.17 L421.67,370.99 L423.36,371.79 L425.06,372.58 L426.76,373.35 L428.48,374.12 L430.19,374.86 L431.92,375.60 L433.65,376.31 L435.38,377.02 L437.12,377.71 L438.87,378.38 L440.63,379.04 L442.38,379.69 L444.15,380.32 L445.92,380.94 L447.69,381.54 L449.48,382.12 L451.26,382.69 L453.06,383.25 L454.85,383.79 L456.66,384.31 L458.47,384.82 L460.28,385.31 L462.10,385.78 L463.92,386.24 L465.75,386.68 L467.59,387.11 L469.43,387.52 L471.28,387.91 L473.13,388.28 L474.98,388.64 L476.84,388.98 L478.71,389.31 L480.58,389.61 L482.45,389.90 L484.33,390.17 L486.22,390.43 L488.11,390.66 L490.00,390.88 L491.90,391.08 L493.81,391.26 L495.72,391.42 L497.63,391.57 L499.55,391.69 L501.47,391.80 L503.40,391.89 L505.33,391.96 L507.27,392.01 L509.21,392.04 L511.15,392.05 L513.10,392.04 L515.05,392.01 L517.01,391.96 L518.97,391.90 L520.94,391.81 L522.91,391.70 L524.88,391.57 L526.86,391.42 L528.84,391.26 L530.82,391.07 L532.81,390.86 L534.81,390.63 L536.80,390.37 L538.81,390.10 L540.81,389.81 L542.17,388.99 L543.53,388.18 L544.88,387.35 L546.23,386.51 L547.56,385.66 L548.89,384.80 L550.20,383.93 L551.51,383.05 L552.81,382.15 L554.10,381.25 L555.38,380.34 L556.66,379.41 L557.92,378.48 L559.18,377.53 L560.43,376.58 L561.67,375.61 L562.90,374.64 L564.13,373.65 L565.34,372.66 L566.55,371.66 L567.76,370.64 L568.95,369.62 L570.14,368.59 L571.32,367.55 L572.49,366.50 L573.65,365.45 L574.81,364.38 L575.96,363.31 L577.10,362.23 L578.24,361.14 L579.37,360.04 L580.49,358.94 L581.60,357.82 L582.71,356.70 L583.81,355.57 L584.91,354.44 L585.99,353.30 L587.08,352.15 L588.15,350.99 L589.22,349.82 L590.28,348.65 L591.34,347.48 L592.39,346.29 L593.44,345.10 L594.47,343.91 L595.51,342.70 L596.53,341.49 L597.55,340.28 L598.57,339.06 L599.58,337.83 L600.58,336.60 L601.58,335.37 L602.58,334.12 L603.57,332.88 L604.55,331.62 L605.53,330.37 L606.50,329.10 L607.47,327.84 L608.43,326.57 L609.39,325.29 L610.34,324.01 L611.29,322.73 L612.23,321.44 L613.17,320.15 L614.11,318.85 L615.04,317.55 L615.97,316.25 L616.89,314.94 L617.81,313.63 L618.72,312.32 L619.63,311.00 L620.53,309.68 L621.44,308.36 L622.33,307.04 L623.23,305.71 L624.12,304.38 L625.01,303.05 L625.89,301.72 L626.77,300.38 L627.65,299.04 L628.52,297.70 L629.39,296.36 L630.26,295.02 L631.12,293.67 L631.98,292.33 L632.84,290.98 L633.69,289.63 L634.55,288.28 L635.40,286.93 L636.24,285.58 L637.09,284.23 L637.93,282.88 L638.77,281.53 L639.61,280.17 L640.45,278.82 L641.29,277.47 L642.13,276.12 L642.96,274.77 L643.80,273.41 L644.63,272.06 L645.47,270.71 L646.30,269.36 L647.13,268.01 L647.97,266.67 L648.80,265.32 L649.64,263.97 L650.48,262.63 L651.32,261.29 L652.16,259.95 L653.00,258.61 L653.84,257.27 L654.69,255.94 L655.53,254.60 L656.38,253.27 L657.24,251.94 L658.09,250.62 L658.95,249.29 L659.81,247.97 L660.68,246.65 L661.55,245.34 L662.42,244.03 L663.29,242.72 L664.17,241.41 L665.06,240.11 L665.95,238.81 L666.84,237.52 L667.74,236.23 L668.65,234.94 L669.56,233.66 L670.47,232.38 L671.39,231.11 L672.32,229.84 L673.25,228.57 L674.19,227.31 L675.14,226.06 L676.09,224.81 L677.05,223.56 L678.02,222.32 L678.99,221.09 L679.97,219.86 L680.96,218.63 L681.96,217.42 L682.96,216.20 L683.98,215.00 L685.00,213.80 L686.03,212.60 L687.07,211.42 L688.12,210.23 L689.18,209.06 L690.25,207.89 L691.33,206.73 L692.41,205.58 L693.51,204.43 L694.62,203.29 L695.74,202.16 L696.87,201.03 L698.01,199.91 L699.16,198.80 L700.32,197.70 L701.50,196.61 L702.68,195.54 L703.88,194.47 L705.08,193.42 L706.30,192.38 L707.53,191.36 L708.77,190.36 L710.02,189.37 L711.28,188.41 L712.55,187.46 L713.83,186.54 L715.12,185.64 L716.43,184.76 L717.74,183.91 L719.07,183.08 L720.41,182.28 L721.75,181.51 L723.11,180.76 L724.48,180.05 L725.86,179.37 L727.25,178.72 L728.64,178.11 L730.05,177.53 L731.46,176.98 L732.88,176.47 L734.31,176.00 L735.75,175.57 L737.20,175.18 L738.65,174.83 L740.11,174.52 L741.57,174.26 L743.04,174.04 L744.52,173.87 L746.01,173.74 L747.50,173.66 L748.99,173.63 L750.49,173.64 L751.99,173.70 L753.50,173.79 L755.01,173.93 L756.53,174.11 L758.05,174.32 L759.57,174.57 L761.10,174.85 L762.63,175.16 L764.16,175.50 L765.69,175.87 L767.23,176.27 L768.77,176.69 L770.31,177.13 L771.86,177.60 L773.40,178.09 L774.95,178.59 L776.49,179.11 L778.04,179.64 L779.59,180.19 L781.14,180.75 L782.69,181.32 L784.24,181.89 L785.78,182.48 L787.33,183.06 L788.88,183.65 L790.42,184.24 L791.97,184.83 L793.51,185.42 L795.05,186.00 L796.59,186.58 L798.13,187.16 L799.67,187.72 L801.20,188.29 L802.74,188.85 L804.27,189.40 L805.80,189.95 L807.33,190.49 L808.86,191.02 L810.39,191.55 L811.91,192.07 L813.44,192.58 L814.97,193.09 L816.49,193.59 L818.02,194.08 L819.54,194.56 L821.06,195.04 L822.59,195.50 L824.11,195.96 L825.63,196.41 L827.15,196.85 L828.68,197.28 L830.20,197.70 L831.72,198.11 L833.25,198.51 L834.77,198.90 L836.29,199.28 L837.82,199.65 L839.34,200.01 L840.87,200.36 L842.39,200.69 L843.92,201.02 L845.45,201.33 L846.97,201.63 L848.50,201.92 L850.03,202.19 L851.57,202.45 L853.10,202.70 L854.63,202.94 L856.17,203.16 L857.71,203.37 L859.25,203.57 L860.79,203.75 L862.33,203.91 L863.87,204.07 L865.42,204.20 L866.97,204.33 L868.52,204.43 L870.07,204.52 L871.62,204.60 L873.18,204.66 L874.74,204.70 L876.30,204.73 L877.86,204.74 L879.43,204.73 L881.00,204.71 L882.57,204.67 L884.15,204.61 L885.73,204.53 L887.31,204.44 L888.89,204.33 L890.48,204.19 L892.07,204.05 L893.66,203.88 L895.26,203.69 L896.86,203.48 L898.46,203.25 L900.07,203.01 L901.68,202.74 L903.30,202.45 L904.92,202.15 L906.54,201.82 L908.17,201.47 L909.80,201.10" fill="none" stroke="#000" stroke-width="2.45" stroke-dasharray="9.865 9.865" stroke-linecap="round" stroke-linejoin="round"/><path d="M154.40,366.10 L155.69,366.31 L156.98,366.52 L158.28,366.74 L159.57,366.95 L160.86,367.16 L162.15,367.37 L163.45,367.59 L164.74,367.81 L166.03,368.02 L167.32,368.24 L168.62,368.46 L169.91,368.67 L171.20,368.89 L172.49,369.11 L173.78,369.33 L175.08,369.55 L176.37,369.78 L177.66,370.00 L178.95,370.22 L180.25,370.45 L181.54,370.67 L182.83,370.90 L184.12,371.12 L185.42,371.35 L186.71,371.57 L188.00,371.80 L189.29,372.03 L190.58,372.26 L191.88,372.49 L193.17,372.72 L194.46,372.95 L195.75,373.18 L197.05,373.41 L198.34,373.64 L199.63,373.87 L200.92,374.10 L202.22,374.33 L203.51,374.57 L204.80,374.80 L206.09,375.03 L207.38,375.27 L208.68,375.50 L209.97,375.74 L211.26,375.97 L212.55,376.21 L213.85,376.45 L215.14,376.68 L216.43,376.92 L217.72,377.16 L219.02,377.39 L220.31,377.63 L221.60,377.87 L222.89,378.11 L224.18,378.34 L225.48,378.58 L226.77,378.82 L228.06,379.06 L229.35,379.30 L230.65,379.54 L231.94,379.78 L233.23,380.02 L234.52,380.26 L235.82,380.50 L237.11,380.74 L238.40,380.98 L239.69,381.22 L240.98,381.46 L242.28,381.70 L243.57,381.94 L244.86,382.18 L246.15,382.42 L247.45,382.66 L248.74,382.90 L250.03,383.14 L251.32,383.38 L252.62,383.62 L253.91,383.86 L255.20,384.10 L256.49,384.34 L257.78,384.58 L259.08,384.82 L260.37,385.07 L261.66,385.31 L262.95,385.55 L264.25,385.79 L265.54,386.03 L266.83,386.27 L268.12,386.50 L269.42,386.74 L270.71,386.98 L272.00,387.22 L273.29,387.46 L274.58,387.70 L275.88,387.94 L277.17,388.18 L278.46,388.41 L279.75,388.65 L281.05,388.89 L282.34,389.13 L283.63,389.36 L284.92,389.60 L286.22,389.84 L287.51,390.07 L288.80,390.31 L290.09,390.54 L291.38,390.78 L292.68,391.01 L293.97,391.25 L295.26,391.48 L296.55,391.72 L297.85,391.95 L299.14,392.18 L300.43,392.41 L301.72,392.65 L303.02,392.88 L304.31,393.11 L305.60,393.34 L306.89,393.57 L308.18,393.80 L309.48,394.03 L310.77,394.25 L312.06,394.48 L313.35,394.71 L314.65,394.94 L315.94,395.16 L317.23,395.39 L318.52,395.61 L319.82,395.84 L321.11,396.06 L322.40,396.28 L323.69,396.51 L324.98,396.73 L326.28,396.95 L327.57,397.17 L328.86,397.39 L330.15,397.61 L331.45,397.83 L332.74,398.04 L334.03,398.26 L335.32,398.48 L336.62,398.69 L337.91,398.91 L339.20,399.12 L340.49,399.34 L341.78,399.55 L343.08,399.76 L344.37,399.97 L345.66,400.18 L346.95,400.39 L348.25,400.60 L349.54,400.80 L350.83,401.01 L352.12,401.22 L353.42,401.42 L354.71,401.62 L356.00,401.83 L357.29,402.03 L358.58,402.23 L359.88,402.43 L361.17,402.63 L362.46,402.83 L363.75,403.02 L365.05,403.22 L366.34,403.41 L367.63,403.61 L368.92,403.80 L370.22,403.99 L371.51,404.18 L372.80,404.36 L374.09,404.55 L375.38,404.73 L376.68,404.92 L377.97,405.10 L379.26,405.27 L380.55,405.45 L381.85,405.62 L383.14,405.79 L384.43,405.96 L385.72,406.13 L387.02,406.30 L388.31,406.46 L389.60,406.62 L390.89,406.78 L392.18,406.93 L393.48,407.08 L394.77,407.23 L396.06,407.38 L397.35,407.52 L398.65,407.66 L399.94,407.80 L401.23,407.93 L402.52,408.07 L403.82,408.19 L405.11,408.32 L406.40,408.44 L407.69,408.56 L408.98,408.67 L410.28,408.78 L411.57,408.89 L412.86,409.00 L414.15,409.10 L415.45,409.19 L416.74,409.28 L418.03,409.37 L419.32,409.46 L420.62,409.54 L421.91,409.61 L423.20,409.69 L424.49,409.75 L425.78,409.82 L427.08,409.87 L428.37,409.93 L429.66,409.98 L430.95,410.02 L432.25,410.06 L433.54,410.10 L434.83,410.13 L436.12,410.16 L437.42,410.18 L438.71,410.19 L440.00,410.20 L441.29,410.21 L442.58,410.21 L443.88,410.20 L445.17,410.19 L446.46,410.18 L447.75,410.16 L449.05,410.13 L450.34,410.10 L451.63,410.06 L452.92,410.02 L454.22,409.97 L455.51,409.91 L456.80,409.85 L458.09,409.78 L459.38,409.71 L460.68,409.63 L461.97,409.54 L463.26,409.45 L464.55,409.35 L465.85,409.24 L467.14,409.13 L468.43,409.01 L469.72,408.89 L471.02,408.76 L472.31,408.62 L473.60,408.47 L474.89,408.32 L476.18,408.16 L477.48,408.00 L478.77,407.82 L480.06,407.64 L481.35,407.45 L482.65,407.26 L483.94,407.06 L485.23,406.85 L486.52,406.63 L487.82,406.40 L489.11,406.17 L490.40,405.93 L491.69,405.68 L492.98,405.43 L494.28,405.16 L495.57,404.89 L496.86,404.61 L498.15,404.32 L499.45,404.02 L500.74,403.72 L502.03,403.41 L503.32,403.09 L504.62,402.76 L505.91,402.42 L507.20,402.07 L508.49,401.71 L509.78,401.35 L511.08,400.98 L512.37,400.59 L513.66,400.20 L514.95,399.80 L516.25,399.39 L517.54,398.98 L518.83,398.55 L520.12,398.11 L521.42,397.67 L522.71,397.21 L524.00,396.75 L525.29,396.27 L526.58,395.79 L527.88,395.30 L529.17,394.79 L530.46,394.28 L531.75,393.76 L533.05,393.22 L534.34,392.68 L535.63,392.13 L536.92,391.56 L538.22,390.99 L539.51,390.41 L540.80,389.81 L542.03,389.68 L543.27,389.56 L544.50,389.43 L545.74,389.29 L546.97,389.13 L548.20,388.97 L549.44,388.79 L550.67,388.61 L551.91,388.42 L553.14,388.21 L554.38,388.00 L555.61,387.77 L556.84,387.54 L558.08,387.30 L559.31,387.04 L560.55,386.78 L561.78,386.51 L563.01,386.23 L564.25,385.94 L565.48,385.65 L566.72,385.34 L567.95,385.03 L569.18,384.71 L570.42,384.38 L571.65,384.04 L572.89,383.70 L574.12,383.35 L575.36,382.99 L576.59,382.62 L577.82,382.25 L579.06,381.87 L580.29,381.48 L581.53,381.08 L582.76,380.68 L583.99,380.27 L585.23,379.86 L586.46,379.44 L587.70,379.01 L588.93,378.58 L590.16,378.14 L591.40,377.70 L592.63,377.25 L593.87,376.80 L595.10,376.34 L596.34,375.87 L597.57,375.40 L598.80,374.93 L600.04,374.45 L601.27,373.96 L602.51,373.48 L603.74,372.98 L604.97,372.49 L606.21,371.99 L607.44,371.48 L608.68,370.97 L609.91,370.46 L611.14,369.95 L612.38,369.43 L613.61,368.91 L614.85,368.38 L616.08,367.86 L617.32,367.33 L618.55,366.79 L619.78,366.26 L621.02,365.72 L622.25,365.18 L623.49,364.64 L624.72,364.10 L625.95,363.55 L627.19,363.00 L628.42,362.45 L629.66,361.91 L630.89,361.35 L632.12,360.80 L633.36,360.25 L634.59,359.69 L635.83,359.14 L637.06,358.59 L638.29,358.03 L639.53,357.47 L640.76,356.92 L642.00,356.36 L643.23,355.81 L644.47,355.25 L645.70,354.70 L646.93,354.14 L648.17,353.59 L649.40,353.04 L650.64,352.48 L651.87,351.93 L653.10,351.38 L654.34,350.84 L655.57,350.29 L656.81,349.75 L658.04,349.20 L659.27,348.66 L660.51,348.12 L661.74,347.59 L662.98,347.05 L664.21,346.52 L665.45,345.99 L666.68,345.47 L667.91,344.94 L669.15,344.42 L670.38,343.90 L671.62,343.39 L672.85,342.88 L674.08,342.37 L675.32,341.87 L676.55,341.37 L677.79,340.88 L679.02,340.39 L680.25,339.90 L681.49,339.42 L682.72,338.94 L683.96,338.47 L685.19,338.00 L686.43,337.54 L687.66,337.08 L688.89,336.63 L690.13,336.18 L691.36,335.74 L692.60,335.30 L693.83,334.87 L695.06,334.45 L696.30,334.03 L697.53,333.62 L698.77,333.22 L700.00,332.82 L701.23,332.43 L702.47,332.04 L703.70,331.66 L704.94,331.29 L706.17,330.93 L707.41,330.57 L708.64,330.22 L709.87,329.88 L711.11,329.55 L712.34,329.22 L713.58,328.90 L714.81,328.59 L716.04,328.29 L717.28,328.00 L718.51,327.71 L719.75,327.44 L720.98,327.17 L722.21,326.91 L723.45,326.67 L724.68,326.43 L725.92,326.20 L727.15,325.98 L728.39,325.77 L729.62,325.57 L730.85,325.37 L732.09,325.19 L733.32,325.02 L734.56,324.86 L735.79,324.71 L737.02,324.58 L738.26,324.45 L739.49,324.33 L740.73,324.22 L741.96,324.13 L743.19,324.04 L744.43,323.97 L745.66,323.91 L746.90,323.86 L748.13,323.82 L749.37,323.79 L750.60,323.77 L751.83,323.77 L753.07,323.77 L754.30,323.79 L755.54,323.82 L756.77,323.85 L758.00,323.90 L759.24,323.96 L760.47,324.04 L761.71,324.12 L762.94,324.21 L764.17,324.32 L765.41,324.44 L766.64,324.57 L767.88,324.71 L769.11,324.86 L770.35,325.02 L771.58,325.19 L772.81,325.38 L774.05,325.57 L775.28,325.78 L776.52,326.00 L777.75,326.23 L778.98,326.48 L780.22,326.73 L781.45,326.99 L782.69,327.27 L783.92,327.56 L785.15,327.86 L786.39,328.17 L787.62,328.49 L788.86,328.83 L790.09,329.17 L791.33,329.53 L792.56,329.90 L793.79,330.28 L795.03,330.67 L796.26,331.08 L797.50,331.49 L798.73,331.92 L799.96,332.36 L801.20,332.81 L802.43,333.27 L803.67,333.75 L804.90,334.23 L806.13,334.73 L807.37,335.24 L808.60,335.76 L809.84,336.30 L811.07,336.84 L812.31,337.40 L813.54,337.97 L814.77,338.55 L816.01,339.14 L817.24,339.74 L818.48,340.36 L819.71,340.99 L820.94,341.63 L822.18,342.28 L823.41,342.95 L824.65,343.62 L825.88,344.31 L827.11,345.01 L828.35,345.72 L829.58,346.45 L830.82,347.18 L832.05,347.93 L833.28,348.69 L834.52,349.46 L835.75,350.25 L836.99,351.04 L838.22,351.85 L839.46,352.66 L840.69,353.49 L841.92,354.32 L843.16,355.16 L844.39,356.02 L845.63,356.88 L846.86,357.75 L848.09,358.63 L849.33,359.51 L850.56,360.40 L851.80,361.30 L853.03,362.20 L854.26,363.11 L855.50,364.03 L856.73,364.95 L857.97,365.88 L859.20,366.81 L860.44,367.74 L861.67,368.68 L862.90,369.62 L864.14,370.56 L865.37,371.51 L866.61,372.46 L867.84,373.41 L869.07,374.36 L870.31,375.31 L871.54,376.27 L872.78,377.22 L874.01,378.18 L875.24,379.13 L876.48,380.08 L877.71,381.03 L878.95,381.99 L880.18,382.93 L881.42,383.88 L882.65,384.82 L883.88,385.77 L885.12,386.70 L886.35,387.64 L887.59,388.57 L888.82,389.49 L890.05,390.41 L891.29,391.33 L892.52,392.24 L893.76,393.14 L894.99,394.04 L896.22,394.93 L897.46,395.82 L898.69,396.70 L899.93,397.57 L901.16,398.43 L902.40,399.28 L903.63,400.12 L904.86,400.96 L906.10,401.78 L907.33,402.60 L908.57,403.41 L909.80,404.20" fill="none" stroke="#000" stroke-width="2.45" stroke-dasharray="9.865 9.865" stroke-linecap="round" stroke-linejoin="round"/><circle cx="540.9" cy="389.85" r="6.8" fill="#000"/><rect x="124.2" y="3.2" width="815.9" height="422.3" fill="none" stroke="#000" stroke-width="2"/><g stroke="#000" stroke-width="0.15"><line x1="147.80" y1="425.5" x2="147.80" y2="442" stroke="#000" stroke-width="2"/><g transform="translate(147.50,483.00) scale(0.95,1.055)"><text x="-12.40" y="0" font-size="26.5" letter-spacing="1.240">-4</text></g><line x1="333.60" y1="425.5" x2="333.60" y2="442" stroke="#000" stroke-width="2"/><g transform="translate(333.30,483.00) scale(0.95,1.055)"><text x="-12.40" y="0" font-size="26.5" letter-spacing="1.240">-2</text></g><line x1="519.40" y1="425.5" x2="519.40" y2="442" stroke="#000" stroke-width="2"/><g transform="translate(519.10,483.00) scale(0.95,1.055)"><text x="-7.37" y="0" font-size="26.5">0</text></g><line x1="705.20" y1="425.5" x2="705.20" y2="442" stroke="#000" stroke-width="2"/><g transform="translate(704.90,483.00) scale(0.95,1.055)"><text x="-7.37" y="0" font-size="26.5">2</text></g><line x1="891.00" y1="425.5" x2="891.00" y2="442" stroke="#000" stroke-width="2"/><g transform="translate(890.70,483.00) scale(0.95,1.055)"><text x="-7.37" y="0" font-size="26.5">4</text></g><line x1="107.7" y1="389.80" x2="124.2" y2="389.80" stroke="#000" stroke-width="2"/><g transform="translate(86.40,389.80) rotate(-90) scale(0.95,1.055)"><text x="-19.39" y="0" font-size="26.5" letter-spacing="0.969">1.0</text><rect x="-17.95" y="-2.53" width="5.13" height="3.43" fill="#fff" stroke="none"/><rect x="-10.29" y="-2.53" width="4.93" height="3.43" fill="#fff" stroke="none"/></g><line x1="107.7" y1="283.13" x2="124.2" y2="283.13" stroke="#000" stroke-width="2"/><g transform="translate(86.40,283.13) rotate(-90) scale(0.95,1.055)"><text x="-19.39" y="0" font-size="26.5" letter-spacing="0.969">1.5</text><rect x="-17.95" y="-2.53" width="5.13" height="3.43" fill="#fff" stroke="none"/><rect x="-10.29" y="-2.53" width="4.93" height="3.43" fill="#fff" stroke="none"/></g><line x1="107.7" y1="176.47" x2="124.2" y2="176.47" stroke="#000" stroke-width="2"/><g transform="translate(86.40,176.47) rotate(-90) scale(0.95,1.055)"><text x="-19.39" y="0" font-size="26.5" letter-spacing="0.969">2.0</text></g><line x1="107.7" y1="69.81" x2="124.2" y2="69.81" stroke="#000" stroke-width="2"/><g transform="translate(86.40,69.81) rotate(-90) scale(0.95,1.055)"><text x="-19.39" y="0" font-size="26.5" letter-spacing="0.969">2.5</text></g><g transform="translate(519.90,519.60) scale(0.96,1.047)"><text x="-162.46" y="0" font-size="26.35" letter-spacing="0.520">Dietary inflammatory index</text></g><g transform="translate(22.70,213.80) rotate(-90) scale(0.96,1.047)"><text x="-78.54" y="0" font-size="26.35" letter-spacing="0.628">OR (95% CI)</text></g><g transform="translate(738.60,38.25) scale(1.0,1.08)"><text x="0.00" y="0" font-size="20.85">P-overall &lt; 0.001</text><rect x="147.64" y="-2.09" width="4.14" height="2.99" fill="#fff" stroke="none"/><rect x="153.77" y="-2.09" width="3.98" height="2.99" fill="#fff" stroke="none"/></g><g transform="translate(738.60,64.00) scale(1.0,1.08)"><text x="0.00" y="0" font-size="20.85">P-non-linear &lt; 0.001</text><rect x="178.94" y="-2.09" width="4.14" height="2.99" fill="#fff" stroke="none"/><rect x="185.07" y="-2.09" width="3.98" height="2.99" fill="#fff" stroke="none"/></g><g transform="translate(420.90,286.00)"><text x="0.00" y="0" font-size="22.5">*</text></g><g transform="translate(437.50,290.30) scale(1.0,1.02)"><text x="0.00" y="0" font-size="26.25">Ref.point = 0.23</text></g><g transform="translate(409.80,103.70) scale(1.0,1.01)"><text x="0.00" y="0" font-size="20.9">Estimation</text></g><g transform="translate(409.90,128.10) scale(1.0,1.01)"><text x="0.00" y="0" font-size="20.9">95% CI</text></g></g><line x1="352.9" y1="95.5" x2="390.1" y2="95.5" stroke="#fa1c05" stroke-width="1.8" stroke-linecap="round"/><line x1="352.9" y1="120.6" x2="390.5" y2="120.6" stroke="#000" stroke-width="2.0" stroke-dasharray="7.9 9.7" stroke-linecap="round"/></svg>
</body></html>
